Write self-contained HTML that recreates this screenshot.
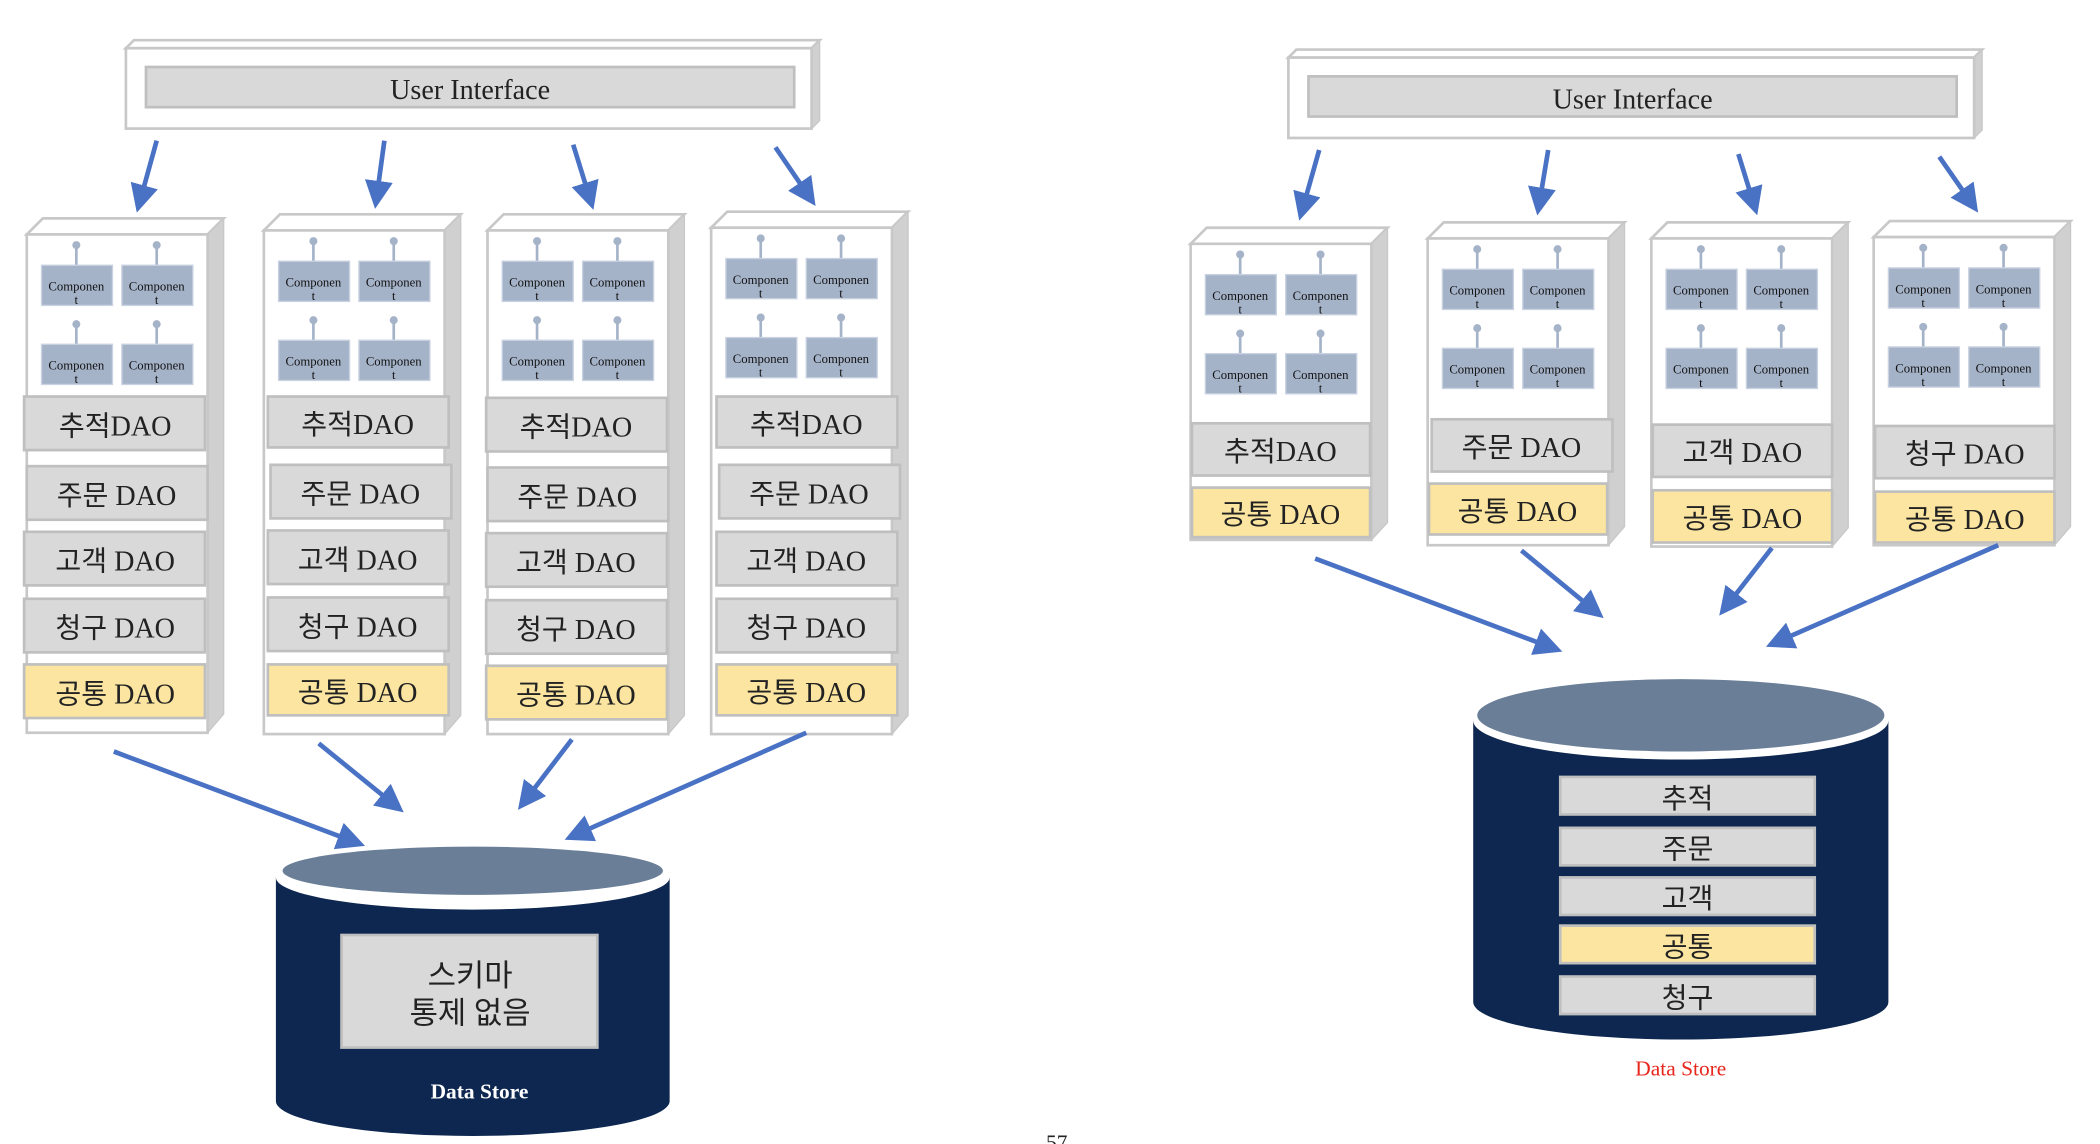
<!DOCTYPE html>
<html><head><meta charset="utf-8"><style>
html,body{margin:0;padding:0;background:#fff;overflow:hidden}
svg{display:block}
text{font-family:"Liberation Serif","Noto Serif CJK SC","Noto Sans CJK KR",serif;fill:#222}
.k{font-family:"Liberation Serif","Noto Sans CJK KR",sans-serif}
.c{font-size:9.5px;fill:#111}
.d{font-size:21px}
.a{stroke:#4a72c4;stroke-width:3.5;fill:none}
</style></head><body>
<svg width="2100" height="1144" viewBox="0 0 1568 854" preserveAspectRatio="none" xmlns="http://www.w3.org/2000/svg">
<defs>
<marker id="ah" markerWidth="6" markerHeight="6" refX="4" refY="3" orient="auto" markerUnits="strokeWidth"><path d="M0,0 L6,3 L0,6 Z" fill="#4a72c4"/></marker>
<g id="comp">
<line x1="26" y1="-14" x2="26" y2="0" stroke="#a5b3c9" stroke-width="2"/>
<circle cx="26" cy="-15" r="3" fill="#a5b3c9"/>
<rect x="0" y="0" width="53" height="30" fill="#a5b3c9" stroke="#c9d2e0"/>
</g>
</defs>

<!-- LEFT UI -->
<polygon points="94,36 100,30 612,30 606,36" fill="#fff" stroke="#c8c8c8" stroke-width="2"/>
<polygon points="606,36 612,30 612,90 606,96" fill="#d0d0d0" stroke="#c8c8c8"/>
<rect x="94" y="36" width="512" height="60" fill="#fff" stroke="#c8c8c8" stroke-width="2"/>
<rect x="109" y="50" width="484" height="30" fill="#d9d9d9" stroke="#bfbfbf" stroke-width="2"/>
<text x="351" y="74" text-anchor="middle" font-size="21">User Interface</text>

<!-- arrows left top -->
<line class="a" x1="117" y1="105" x2="104" y2="152" marker-end="url(#ah)"/>
<line class="a" x1="287" y1="105" x2="281" y2="149" marker-end="url(#ah)"/>
<line class="a" x1="428" y1="108" x2="441" y2="150" marker-end="url(#ah)"/>
<line class="a" x1="579" y1="110" x2="605" y2="148" marker-end="url(#ah)"/>

<!-- Left columns -->
<g transform="translate(20,175)">
<polygon points="0,0 12,-12 147,-12 135,0" fill="#fff" stroke="#c8c8c8" stroke-width="2"/>
<polygon points="135,0 147,-12 147,358 135,372" fill="#d0d0d0" stroke="#c8c8c8"/>
<rect x="0" y="0" width="135" height="372" fill="#fff" stroke="#c8c8c8" stroke-width="2"/>
<use href="#comp" x="11" y="23"/><use href="#comp" x="71" y="23"/><use href="#comp" x="11" y="82"/><use href="#comp" x="71" y="82"/>
<text class="c" x="37" y="42" text-anchor="middle">Componen</text><text class="c" x="37" y="52" text-anchor="middle">t</text>
<text class="c" x="97" y="42" text-anchor="middle">Componen</text><text class="c" x="97" y="52" text-anchor="middle">t</text>
<text class="c" x="37" y="101" text-anchor="middle">Componen</text><text class="c" x="37" y="111" text-anchor="middle">t</text>
<text class="c" x="97" y="101" text-anchor="middle">Componen</text><text class="c" x="97" y="111" text-anchor="middle">t</text>
<rect x="-2" y="121" width="135" height="40" fill="#d9d9d9" stroke="#bfbfbf" stroke-width="2"/><text class="k d" x="66" y="150" text-anchor="middle">추적DAO</text>
<rect x="0" y="173" width="135" height="40" fill="#d9d9d9" stroke="#bfbfbf" stroke-width="2"/><text class="k d" x="67" y="202" text-anchor="middle">주문 DAO</text>
<rect x="-2" y="222" width="135" height="40" fill="#d9d9d9" stroke="#bfbfbf" stroke-width="2"/><text class="k d" x="66" y="251" text-anchor="middle">고객 DAO</text>
<rect x="-2" y="272" width="135" height="40" fill="#d9d9d9" stroke="#bfbfbf" stroke-width="2"/><text class="k d" x="66" y="301" text-anchor="middle">청구 DAO</text>
<rect x="-2" y="321" width="135" height="40" fill="#fbe5a0" stroke="#bfbfbf" stroke-width="2"/><text class="k d" x="66" y="350" text-anchor="middle">공통 DAO</text>
</g>
<g transform="translate(197,172)">
<polygon points="0,0 12,-12 147,-12 135,0" fill="#fff" stroke="#c8c8c8" stroke-width="2"/>
<polygon points="135,0 147,-12 147,362 135,376" fill="#d0d0d0" stroke="#c8c8c8"/>
<rect x="0" y="0" width="135" height="376" fill="#fff" stroke="#c8c8c8" stroke-width="2"/>
<use href="#comp" x="11" y="23"/><use href="#comp" x="71" y="23"/><use href="#comp" x="11" y="82"/><use href="#comp" x="71" y="82"/>
<text class="c" x="37" y="42" text-anchor="middle">Componen</text><text class="c" x="37" y="52" text-anchor="middle">t</text>
<text class="c" x="97" y="42" text-anchor="middle">Componen</text><text class="c" x="97" y="52" text-anchor="middle">t</text>
<text class="c" x="37" y="101" text-anchor="middle">Componen</text><text class="c" x="37" y="111" text-anchor="middle">t</text>
<text class="c" x="97" y="101" text-anchor="middle">Componen</text><text class="c" x="97" y="111" text-anchor="middle">t</text>
<rect x="3" y="124" width="135" height="38" fill="#d9d9d9" stroke="#bfbfbf" stroke-width="2"/><text class="k d" x="70" y="152" text-anchor="middle">추적DAO</text>
<rect x="5" y="175" width="135" height="40" fill="#d9d9d9" stroke="#bfbfbf" stroke-width="2"/><text class="k d" x="72" y="204" text-anchor="middle">주문 DAO</text>
<rect x="3" y="224" width="135" height="40" fill="#d9d9d9" stroke="#bfbfbf" stroke-width="2"/><text class="k d" x="70" y="253" text-anchor="middle">고객 DAO</text>
<rect x="3" y="274" width="135" height="40" fill="#d9d9d9" stroke="#bfbfbf" stroke-width="2"/><text class="k d" x="70" y="303" text-anchor="middle">청구 DAO</text>
<rect x="3" y="324" width="135" height="38" fill="#fbe5a0" stroke="#bfbfbf" stroke-width="2"/><text class="k d" x="70" y="352" text-anchor="middle">공통 DAO</text>
</g>
<g transform="translate(364,172)">
<polygon points="0,0 12,-12 147,-12 135,0" fill="#fff" stroke="#c8c8c8" stroke-width="2"/>
<polygon points="135,0 147,-12 147,362 135,376" fill="#d0d0d0" stroke="#c8c8c8"/>
<rect x="0" y="0" width="135" height="376" fill="#fff" stroke="#c8c8c8" stroke-width="2"/>
<use href="#comp" x="11" y="23"/><use href="#comp" x="71" y="23"/><use href="#comp" x="11" y="82"/><use href="#comp" x="71" y="82"/>
<text class="c" x="37" y="42" text-anchor="middle">Componen</text><text class="c" x="37" y="52" text-anchor="middle">t</text>
<text class="c" x="97" y="42" text-anchor="middle">Componen</text><text class="c" x="97" y="52" text-anchor="middle">t</text>
<text class="c" x="37" y="101" text-anchor="middle">Componen</text><text class="c" x="37" y="111" text-anchor="middle">t</text>
<text class="c" x="97" y="101" text-anchor="middle">Componen</text><text class="c" x="97" y="111" text-anchor="middle">t</text>
<rect x="-1" y="125" width="135" height="40" fill="#d9d9d9" stroke="#bfbfbf" stroke-width="2"/><text class="k d" x="66" y="154" text-anchor="middle">추적DAO</text>
<rect x="0" y="177" width="135" height="40" fill="#d9d9d9" stroke="#bfbfbf" stroke-width="2"/><text class="k d" x="67" y="206" text-anchor="middle">주문 DAO</text>
<rect x="-1" y="226" width="135" height="40" fill="#d9d9d9" stroke="#bfbfbf" stroke-width="2"/><text class="k d" x="66" y="255" text-anchor="middle">고객 DAO</text>
<rect x="-1" y="276" width="135" height="40" fill="#d9d9d9" stroke="#bfbfbf" stroke-width="2"/><text class="k d" x="66" y="305" text-anchor="middle">청구 DAO</text>
<rect x="-1" y="325" width="135" height="40" fill="#fbe5a0" stroke="#bfbfbf" stroke-width="2"/><text class="k d" x="66" y="354" text-anchor="middle">공통 DAO</text>
</g>
<g transform="translate(531,170)">
<polygon points="0,0 12,-12 147,-12 135,0" fill="#fff" stroke="#c8c8c8" stroke-width="2"/>
<polygon points="135,0 147,-12 147,364 135,378" fill="#d0d0d0" stroke="#c8c8c8"/>
<rect x="0" y="0" width="135" height="378" fill="#fff" stroke="#c8c8c8" stroke-width="2"/>
<use href="#comp" x="11" y="23"/><use href="#comp" x="71" y="23"/><use href="#comp" x="11" y="82"/><use href="#comp" x="71" y="82"/>
<text class="c" x="37" y="42" text-anchor="middle">Componen</text><text class="c" x="37" y="52" text-anchor="middle">t</text>
<text class="c" x="97" y="42" text-anchor="middle">Componen</text><text class="c" x="97" y="52" text-anchor="middle">t</text>
<text class="c" x="37" y="101" text-anchor="middle">Componen</text><text class="c" x="37" y="111" text-anchor="middle">t</text>
<text class="c" x="97" y="101" text-anchor="middle">Componen</text><text class="c" x="97" y="111" text-anchor="middle">t</text>
<rect x="4" y="126" width="135" height="38" fill="#d9d9d9" stroke="#bfbfbf" stroke-width="2"/><text class="k d" x="71" y="154" text-anchor="middle">추적DAO</text>
<rect x="6" y="177" width="135" height="40" fill="#d9d9d9" stroke="#bfbfbf" stroke-width="2"/><text class="k d" x="73" y="206" text-anchor="middle">주문 DAO</text>
<rect x="4" y="227" width="135" height="40" fill="#d9d9d9" stroke="#bfbfbf" stroke-width="2"/><text class="k d" x="71" y="256" text-anchor="middle">고객 DAO</text>
<rect x="4" y="277" width="135" height="40" fill="#d9d9d9" stroke="#bfbfbf" stroke-width="2"/><text class="k d" x="71" y="306" text-anchor="middle">청구 DAO</text>
<rect x="4" y="326" width="135" height="38" fill="#fbe5a0" stroke="#bfbfbf" stroke-width="2"/><text class="k d" x="71" y="354" text-anchor="middle">공통 DAO</text>
</g>

<!-- left bottom arrows -->
<line class="a" x1="85" y1="561" x2="266" y2="629" marker-end="url(#ah)"/>
<line class="a" x1="238" y1="555" x2="296" y2="602" marker-end="url(#ah)"/>
<line class="a" x1="427" y1="552" x2="391" y2="599" marker-end="url(#ah)"/>
<line class="a" x1="602" y1="547" x2="428" y2="624" marker-end="url(#ah)"/>

<!-- left cylinder -->
<path d="M206,655 L206,822 A147,26 0 0 0 500,822 L500,655 Z" fill="#0d2750"/>
<ellipse cx="353" cy="655" rx="147" ry="24" fill="#fff"/>
<ellipse cx="353" cy="650" rx="142" ry="18" fill="#6a7e98"/>
<rect x="255" y="698" width="191" height="84" fill="#d9d9d9" stroke="#bfbfbf" stroke-width="2"/>
<text class="k" x="351" y="736" text-anchor="middle" font-size="23">스키마</text>
<text class="k" x="351" y="764" text-anchor="middle" font-size="23">통제 없음</text>
<text x="358" y="820" text-anchor="middle" font-size="16" font-weight="bold" style="fill:#fff">Data Store</text>

<text x="789" y="858" text-anchor="middle" font-size="16">57</text>

<!-- RIGHT UI -->
<polygon points="962,43 968,37 1480,37 1474,43" fill="#fff" stroke="#c8c8c8" stroke-width="2"/>
<polygon points="1474,43 1480,37 1480,97 1474,103" fill="#d0d0d0" stroke="#c8c8c8"/>
<rect x="962" y="43" width="512" height="60" fill="#fff" stroke="#c8c8c8" stroke-width="2"/>
<rect x="977" y="57" width="484" height="30" fill="#d9d9d9" stroke="#bfbfbf" stroke-width="2"/>
<text x="1219" y="81" text-anchor="middle" font-size="21">User Interface</text>

<line class="a" x1="985" y1="112" x2="972" y2="158" marker-end="url(#ah)"/>
<line class="a" x1="1156" y1="112" x2="1149" y2="154" marker-end="url(#ah)"/>
<line class="a" x1="1298" y1="115" x2="1310" y2="154" marker-end="url(#ah)"/>
<line class="a" x1="1448" y1="117" x2="1473" y2="153" marker-end="url(#ah)"/>

<g transform="translate(889,182)">
<polygon points="0,0 12,-12 147,-12 135,0" fill="#fff" stroke="#c8c8c8" stroke-width="2"/>
<polygon points="135,0 147,-12 147,208 135,221" fill="#d0d0d0" stroke="#c8c8c8"/>
<rect x="0" y="0" width="135" height="221" fill="#fff" stroke="#c8c8c8" stroke-width="2"/>
<use href="#comp" x="11" y="23"/><use href="#comp" x="71" y="23"/><use href="#comp" x="11" y="82"/><use href="#comp" x="71" y="82"/>
<text class="c" x="37" y="42" text-anchor="middle">Componen</text><text class="c" x="37" y="52" text-anchor="middle">t</text>
<text class="c" x="97" y="42" text-anchor="middle">Componen</text><text class="c" x="97" y="52" text-anchor="middle">t</text>
<text class="c" x="37" y="101" text-anchor="middle">Componen</text><text class="c" x="37" y="111" text-anchor="middle">t</text>
<text class="c" x="97" y="101" text-anchor="middle">Componen</text><text class="c" x="97" y="111" text-anchor="middle">t</text>
<rect x="1" y="134" width="133" height="39" fill="#d9d9d9" stroke="#bfbfbf" stroke-width="2"/><text class="k d" x="67" y="162" text-anchor="middle">추적DAO</text>
<rect x="1" y="182" width="133" height="37" fill="#fbe5a0" stroke="#bfbfbf" stroke-width="2"/><text class="k d" x="67" y="209" text-anchor="middle">공통 DAO</text>
</g>
<g transform="translate(1066,178)">
<polygon points="0,0 12,-12 147,-12 135,0" fill="#fff" stroke="#c8c8c8" stroke-width="2"/>
<polygon points="135,0 147,-12 147,215 135,229" fill="#d0d0d0" stroke="#c8c8c8"/>
<rect x="0" y="0" width="135" height="229" fill="#fff" stroke="#c8c8c8" stroke-width="2"/>
<use href="#comp" x="11" y="23"/><use href="#comp" x="71" y="23"/><use href="#comp" x="11" y="82"/><use href="#comp" x="71" y="82"/>
<text class="c" x="37" y="42" text-anchor="middle">Componen</text><text class="c" x="37" y="52" text-anchor="middle">t</text>
<text class="c" x="97" y="42" text-anchor="middle">Componen</text><text class="c" x="97" y="52" text-anchor="middle">t</text>
<text class="c" x="37" y="101" text-anchor="middle">Componen</text><text class="c" x="37" y="111" text-anchor="middle">t</text>
<text class="c" x="97" y="101" text-anchor="middle">Componen</text><text class="c" x="97" y="111" text-anchor="middle">t</text>
<rect x="3" y="135" width="135" height="39" fill="#d9d9d9" stroke="#bfbfbf" stroke-width="2"/><text class="k d" x="70" y="163" text-anchor="middle">주문 DAO</text>
<rect x="1" y="183" width="133" height="38" fill="#fbe5a0" stroke="#bfbfbf" stroke-width="2"/><text class="k d" x="67" y="211" text-anchor="middle">공통 DAO</text>
</g>
<g transform="translate(1233,178)">
<polygon points="0,0 12,-12 147,-12 135,0" fill="#fff" stroke="#c8c8c8" stroke-width="2"/>
<polygon points="135,0 147,-12 147,216 135,230" fill="#d0d0d0" stroke="#c8c8c8"/>
<rect x="0" y="0" width="135" height="230" fill="#fff" stroke="#c8c8c8" stroke-width="2"/>
<use href="#comp" x="11" y="23"/><use href="#comp" x="71" y="23"/><use href="#comp" x="11" y="82"/><use href="#comp" x="71" y="82"/>
<text class="c" x="37" y="42" text-anchor="middle">Componen</text><text class="c" x="37" y="52" text-anchor="middle">t</text>
<text class="c" x="97" y="42" text-anchor="middle">Componen</text><text class="c" x="97" y="52" text-anchor="middle">t</text>
<text class="c" x="37" y="101" text-anchor="middle">Componen</text><text class="c" x="37" y="111" text-anchor="middle">t</text>
<text class="c" x="97" y="101" text-anchor="middle">Componen</text><text class="c" x="97" y="111" text-anchor="middle">t</text>
<rect x="1" y="139" width="134" height="39" fill="#d9d9d9" stroke="#bfbfbf" stroke-width="2"/><text class="k d" x="68" y="167" text-anchor="middle">고객 DAO</text>
<rect x="1" y="188" width="134" height="39" fill="#fbe5a0" stroke="#bfbfbf" stroke-width="2"/><text class="k d" x="68" y="216" text-anchor="middle">공통 DAO</text>
</g>
<g transform="translate(1399,177)">
<polygon points="0,0 12,-12 147,-12 135,0" fill="#fff" stroke="#c8c8c8" stroke-width="2"/>
<polygon points="135,0 147,-12 147,216 135,230" fill="#d0d0d0" stroke="#c8c8c8"/>
<rect x="0" y="0" width="135" height="230" fill="#fff" stroke="#c8c8c8" stroke-width="2"/>
<use href="#comp" x="11" y="23"/><use href="#comp" x="71" y="23"/><use href="#comp" x="11" y="82"/><use href="#comp" x="71" y="82"/>
<text class="c" x="37" y="42" text-anchor="middle">Componen</text><text class="c" x="37" y="52" text-anchor="middle">t</text>
<text class="c" x="97" y="42" text-anchor="middle">Componen</text><text class="c" x="97" y="52" text-anchor="middle">t</text>
<text class="c" x="37" y="101" text-anchor="middle">Componen</text><text class="c" x="37" y="111" text-anchor="middle">t</text>
<text class="c" x="97" y="101" text-anchor="middle">Componen</text><text class="c" x="97" y="111" text-anchor="middle">t</text>
<rect x="1" y="141" width="134" height="39" fill="#d9d9d9" stroke="#bfbfbf" stroke-width="2"/><text class="k d" x="68" y="169" text-anchor="middle">청구 DAO</text>
<rect x="1" y="190" width="134" height="38" fill="#fbe5a0" stroke="#bfbfbf" stroke-width="2"/><text class="k d" x="68" y="218" text-anchor="middle">공통 DAO</text>
</g>

<line class="a" x1="982" y1="417" x2="1160" y2="484" marker-end="url(#ah)"/>
<line class="a" x1="1136" y1="411" x2="1192" y2="457" marker-end="url(#ah)"/>
<line class="a" x1="1323" y1="409" x2="1288" y2="454" marker-end="url(#ah)"/>
<line class="a" x1="1492" y1="407" x2="1325" y2="480" marker-end="url(#ah)"/>

<!-- right cylinder -->
<path d="M1100,538 L1100,748 A155,28 0 0 0 1410,748 L1410,538 Z" fill="#0d2750"/>
<ellipse cx="1255" cy="538" rx="155" ry="29" fill="#fff"/>
<ellipse cx="1255" cy="534" rx="152" ry="27" fill="#6a7e98"/>
<rect x="1165" y="580" width="190" height="28" fill="#d9d9d9" stroke="#bfbfbf" stroke-width="2"/><text class="k" x="1260" y="603" text-anchor="middle" font-size="21">추적</text>
<rect x="1165" y="618" width="190" height="28" fill="#d9d9d9" stroke="#bfbfbf" stroke-width="2"/><text class="k" x="1260" y="641" text-anchor="middle" font-size="21">주문</text>
<rect x="1165" y="655" width="190" height="28" fill="#d9d9d9" stroke="#bfbfbf" stroke-width="2"/><text class="k" x="1260" y="678" text-anchor="middle" font-size="21">고객</text>
<rect x="1165" y="691" width="190" height="28" fill="#fbe5a0" stroke="#bfbfbf" stroke-width="2"/><text class="k" x="1260" y="714" text-anchor="middle" font-size="21">공통</text>
<rect x="1165" y="729" width="190" height="28" fill="#d9d9d9" stroke="#bfbfbf" stroke-width="2"/><text class="k" x="1260" y="752" text-anchor="middle" font-size="21">청구</text>
<text x="1255" y="803" text-anchor="middle" font-size="16" style="fill:#e8261c">Data Store</text>
</svg>
</body></html>
